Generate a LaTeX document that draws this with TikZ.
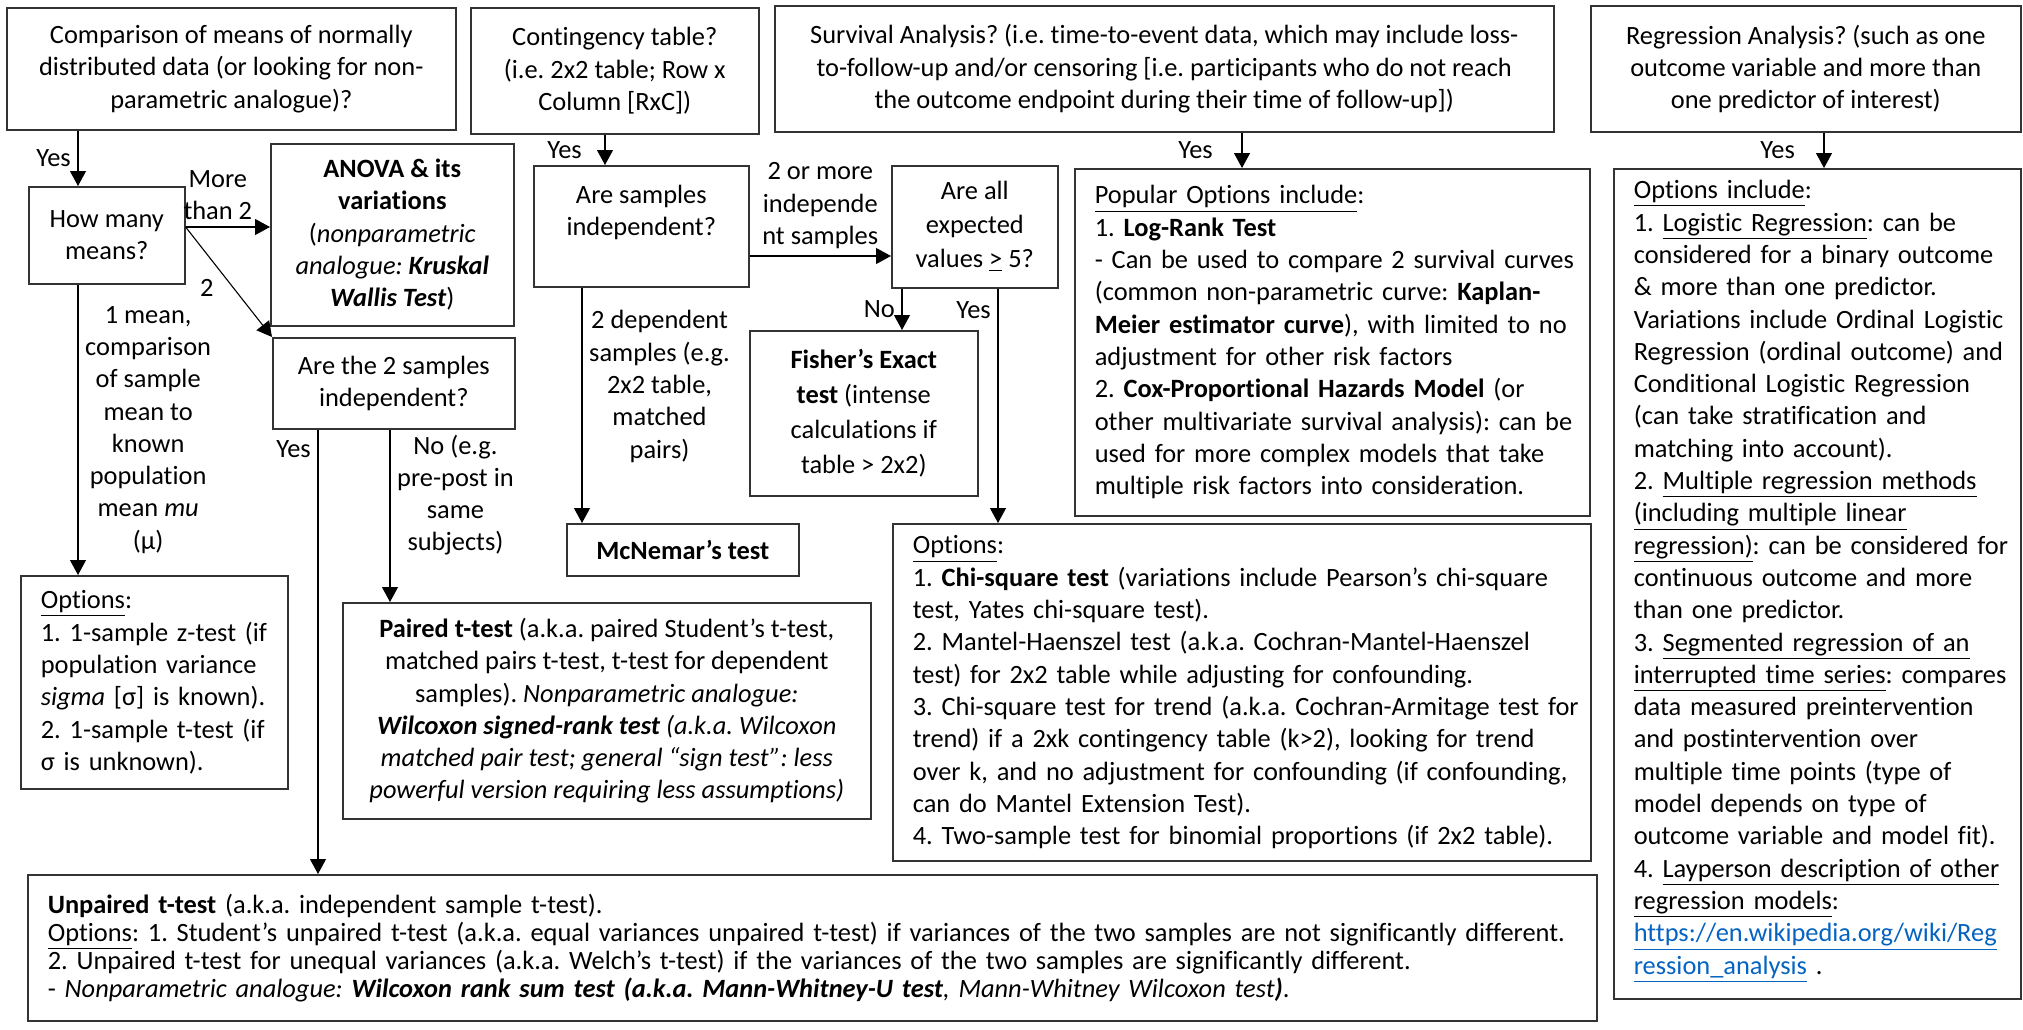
\documentclass[tikz,border=0pt]{standalone}
\usepackage{fontspec}
\setmainfont{Carlito}[Ligatures={TeX,NoCommon}]
\usepackage{xcolor}
\usepackage{tikz}
\usetikzlibrary{arrows.meta, positioning}
\definecolor{linkblue}{HTML}{0563C1}
\AtBeginDocument{\frenchspacing}

\begin{document}
\begin{tikzpicture}[x=0.5pt, y=-0.5pt, font=\fontsize{13.2}{16.15}\selectfont]
        \tikzstyle{question} = [rectangle, draw=black!80, line width=0.8pt, anchor=north west, align=center]
        \tikzstyle{options} = [question, align=left, inner xsep=2pt, execute at begin node={\leftskip=8pt\lineskiplimit=-6pt}]
        \tikzstyle{line} = [draw, line width=0.55pt, -{Triangle[length=7.5pt, width=8pt]}]

        \useasboundingbox (0,0) rectangle (2023,1029);

        \node [question, minimum width=224.5pt, minimum height=61pt] (cmp) at (6,7) {Comparison of means of normally\\distributed data (or looking for non-\\parametric analogue)?};
        \node [question, minimum width=144pt, minimum height=63pt] (cont) at (470,7) {Contingency table?\\(i.e. 2x2 table; Row x\\Column [RxC])};
        \node [question, minimum width=389.5pt, minimum height=63pt] (surv) at (774,5) {Survival Analysis? (i.e. time-to-event data, which may include loss-\\to-follow-up and/or censoring [i.e. participants who do not reach\\the outcome endpoint during their time of follow-up])};
        \node [question, minimum width=215pt, minimum height=63pt] (regr) at (1590,5) {Regression Analysis? (such as one\\outcome variable and more than\\one predictor of interest)};

        \node [question, minimum width=78pt, minimum height=48.5pt] (howmany) at (28,186) {How many\\means?};
        \node [question, minimum width=121.5pt, minimum height=91pt] (anova) at (270,143) {\textbf{ANOVA \& its}\\\textbf{variations}\\(\textit{nonparametric}\\\textit{analogue: \textbf{Kruskal}}\\\textit{\textbf{Wallis Test}})};
        \node [question, minimum width=121pt, minimum height=45.5pt] (are2) at (272,337) {Are the 2 samples\\independent?};
        \node [options, text width=129.5pt, minimum height=106.5pt] (optl) at (20,575) {\underline{Options}:\\1. 1-sample z-test (if\\population variance\\\textit{sigma} [σ] is known).\\2. 1-sample t-test (if\\σ is unknown).};
        \node [question, minimum width=264pt, minimum height=108pt] (paired) at (342,602) {\textbf{Paired t-test} (a.k.a. paired Student’s t-test,\\matched pairs t-test, t-test for dependent\\samples). \textit{Nonparametric analogue:}\\\textit{\textbf{Wilcoxon signed-rank test} (a.k.a. Wilcoxon}\\\textit{matched pair test; general “sign test”: less}\\\textit{powerful version requiring less assumptions)}};
        \node [options, text width=780.5pt, minimum height=73pt, font=\fontsize{13.2}{14}\selectfont] (unp) at (27,874) {\textbf{Unpaired t-test} (a.k.a. independent sample t-test).\\\underline{Options}: 1. Student’s unpaired t-test (a.k.a. equal variances unpaired t-test) if variances of the two samples are not significantly different.\\2. Unpaired t-test for unequal variances (a.k.a. Welch’s t-test) if the variances of the two samples are significantly different.\\- \textit{Nonparametric analogue: \textbf{Wilcoxon rank sum test (a.k.a. Mann-Whitney-U test}, Mann-Whitney Wilcoxon test\textbf{)}}.};

        \node [question, minimum width=107.5pt, minimum height=60.5pt] (asi) at (533,165) {Are samples\\independent?\\\mbox{}};
        \node [question, minimum width=116pt, minimum height=26pt] (mcn) at (566,523) {\textbf{McNemar’s test}};
        \node [question, minimum width=83pt, minimum height=61pt, font=\fontsize{13.2}{17}\selectfont] (expct) at (891,165) {Are all\\expected\\values \underline{>} 5?};
        \node [question, minimum width=114pt, minimum height=82.5pt, font=\fontsize{13.2}{17.5}\selectfont] (fish) at (749,330) {\textbf{Fisher’s Exact}\\\textbf{test} (intense\\calculations if\\table > 2x2)};
        \node [options, text width=345pt, minimum height=168.5pt] (chi) at (892,523) {\underline{Options}:\\1. \textbf{Chi-square test} (variations include Pearson’s chi-square\\test, Yates chi-square test).\\2. Mantel-Haenszel test (a.k.a. Cochran-Mantel-Haenszel\\test) for 2x2 table while adjusting for confounding.\\3. Chi-square test for trend (a.k.a. Cochran-Armitage test for\\trend) if a 2xk contingency table (k>2), looking for trend\\over k, and no adjustment for confounding (if confounding,\\can do Mantel Extension Test).\\4. Two-sample test for binomial proportions (if 2x2 table).};
        \node [options, text width=253.5pt, minimum height=173.5pt] (pop) at (1074,168) {\underline{Popular Options include}:\\1. \textbf{Log-Rank Test}\\- Can be used to compare 2 survival curves\\(common non-parametric curve: \textbf{Kaplan-}\\\textbf{Meier estimator curve}), with limited to no\\adjustment for other risk factors\\2. \textbf{Cox-Proportional Hazards Model} (or\\other multivariate survival analysis): can be\\used for more complex models that take\\multiple risk factors into consideration.};
        \node [options, text width=199.5pt, minimum height=415pt, text height=10pt, text depth=395pt] (rego) at (1613,168) {\underline{Options include}:\\1. \underline{Logistic Regression}: can be\\considered for a binary outcome\\\& more than one predictor.\\Variations include Ordinal Logistic\\Regression (ordinal outcome) and\\Conditional Logistic Regression\\(can take stratification and\\matching into account).\\2. \underline{Multiple regression methods}\\\underline{(including multiple linear}\\\underline{regression)}: can be considered for\\continuous outcome and more\\than one predictor.\\3. \underline{Segmented regression of an}\\\underline{interrupted time series}: compares\\data measured preintervention\\and postintervention over\\multiple time points (type of\\model depends on type of\\outcome variable and model fit).\\4. \underline{Layperson description of other}\\\underline{regression models}:\\\textcolor{linkblue}{\underline{https://en.wikipedia.org/wiki/Reg}}\\\textcolor{linkblue}{\underline{ression\_analysis}} .};

        \coordinate (meanx) at (78,0);
        \coordinate (indx) at (318,0);
        \coordinate (depx) at (390,0);
        \coordinate (contx) at (605,0);
        \coordinate (mcnx) at (582,0);
        \coordinate (fishx) at (902,0);
        \coordinate (chix) at (998,0);
        \coordinate (survx) at (1242,0);
        \coordinate (regx) at (1824,0);
        \coordinate (morey) at (0,227);
        \coordinate (indepy) at (0,256);

        \path [line] (cmp.south -| meanx) -- node [left] {Yes} (howmany.north -| meanx);
        \path [line] (howmany.east |- morey) -- node [above, align=center, xshift=-5pt] {More\\than 2} (anova.west |- morey);
        \path [line] (howmany.east |- morey) -- node [left, xshift=-4pt, yshift=-3pt] {2} (are2.north west);
        \path [line] (howmany.south -| meanx) -- node [right, align=center] {1 mean,\\comparison\\of sample\\mean to\\known\\population\\mean \textit{mu}\\(μ)} (optl.north -| meanx);
        \path [line] (are2.south -| indx) -- node [pos=0.045, left] {Yes} (unp.north -| indx);
        \path [line] (are2.south -| depx) -- node [pos=0.38, right, align=center] {No (e.g.\\pre-post in\\same\\subjects)} (paired.north -| depx);

        \path [line] (cont.south -| contx) -- node [left=8pt] {Yes} (asi.north -| contx);
        \path [line] (asi.south -| mcnx) -- node [pos=0.42, right, align=center] {2 dependent\\samples (e.g.\\2x2 table,\\matched\\pairs)} (mcn.north -| mcnx);
        \path [line] (asi.east |- indepy) -- node [above, align=center] {2 or more\\independe\\nt samples} (expct.west |- indepy);
        \path [line] (expct.south -| fishx) -- node [left] {No} (fish.north -| fishx);
        \path [line] (expct.south -| chix) -- node [pos=0.09, left] {Yes} (chi.north -| chix);

        \path [line] (surv.south -| survx) -- node [left=11pt] {Yes} (pop.north -| survx);
        \path [line] (regr.south -| regx) -- node [left=11pt] {Yes} (rego.north -| regx);
    \end{tikzpicture}
\end{document}
